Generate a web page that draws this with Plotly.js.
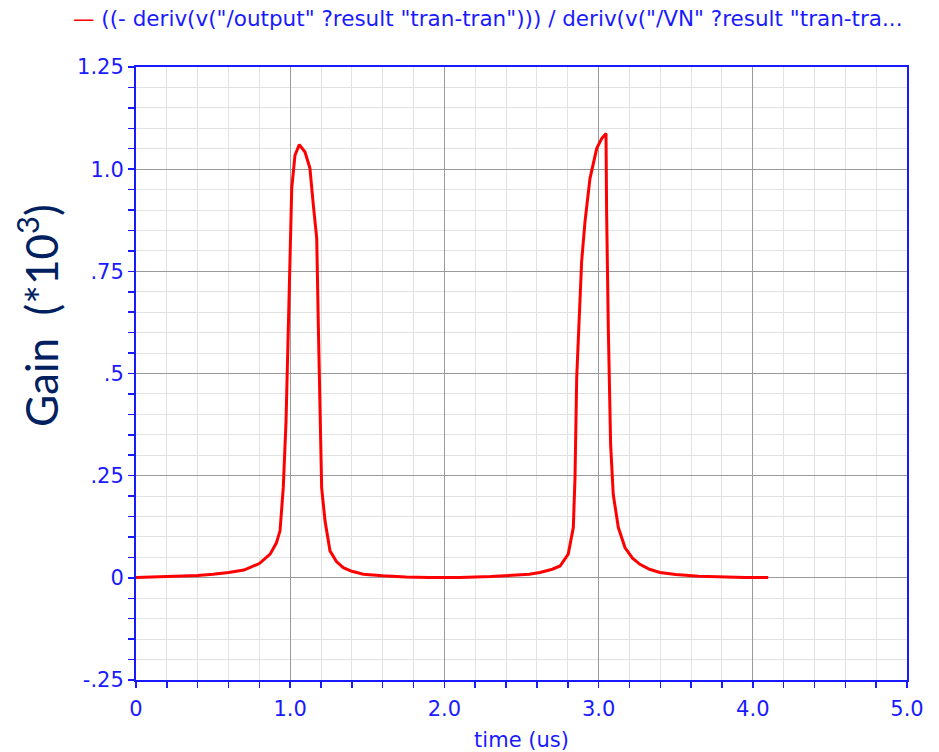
<!DOCTYPE html>
<html>
<head>
<meta charset="utf-8">
<script src="https://cdn.plot.ly/plotly-3.0.1.min.js"></script>
<style>html,body{margin:0;padding:0;background:#fff;}#chart{width:939px;height:752px;}</style>
</head>
<body>
<div id="chart"></div>
<script>
const timeUs = [0, 0.2, 0.4, 0.5, 0.6, 0.7, 0.74, 0.8, 0.87, 0.91, 0.934, 0.955, 0.973, 0.988, 0.999, 1.010, 1.031, 1.059, 1.096, 1.128, 1.150, 1.172, 1.182, 1.193, 1.204, 1.226, 1.258, 1.30, 1.344, 1.40, 1.474, 1.6, 1.75, 1.9, 2.1, 2.3, 2.45, 2.55, 2.62, 2.70, 2.75, 2.803, 2.836, 2.847, 2.858, 2.875, 2.890, 2.912, 2.944, 2.988, 3.020, 3.048, 3.052, 3.063, 3.078, 3.095, 3.128, 3.171, 3.22, 3.268, 3.33, 3.398, 3.5, 3.65, 3.8, 3.95, 4.1];
const gainK = [0.001, 0.003, 0.006, 0.009, 0.013, 0.019, 0.025, 0.035, 0.058, 0.085, 0.115, 0.22, 0.383, 0.627, 0.831, 0.953, 1.034, 1.060, 1.042, 1.002, 0.912, 0.831, 0.627, 0.383, 0.22, 0.139, 0.066, 0.040, 0.025, 0.016, 0.009, 0.005, 0.002, 0.001, 0.001, 0.003, 0.006, 0.009, 0.013, 0.021, 0.029, 0.058, 0.123, 0.245, 0.489, 0.652, 0.774, 0.872, 0.977, 1.051, 1.075, 1.087, 0.896, 0.611, 0.326, 0.204, 0.123, 0.074, 0.048, 0.033, 0.021, 0.013, 0.008, 0.004, 0.002, 0.001, 0.001];
const xTickVals = [0, 1, 2, 3, 4, 5];
const xTickText = ['0', '1.0', '2.0', '3.0', '4.0', '5.0'];
const yTickVals = [-0.25, 0, 0.25, 0.5, 0.75, 1.0, 1.25];
const yTickText = ['-.25', '0', '.25', '.5', '.75', '1.0', '1.25'];
const legendText = '((- deriv(v("/output" ?result "tran-tran"))) / deriv(v("/VN" ?result "tran-tra...';
const yTitleText = 'Gain  (*10<sup>3</sup>)';
const xTitleText = 'time (us)';

const blue = '#1a1aff';
const trace = {
  x: timeUs, y: gainK, type: 'scatter', mode: 'lines',
  line: {color: '#ff0000', width: 3}, showlegend: false
};
const axisCommon = {
  showline: true, linecolor: blue, linewidth: 2, mirror: true,
  ticks: 'outside', ticklen: 6, tickcolor: blue, tickwidth: 1.5,
  showgrid: true, gridcolor: '#9a9a9a', gridwidth: 1.2,
  zeroline: false,
  tickfont: {family: 'DejaVu Sans', size: 21, color: blue},
  tickmode: 'array'
};
const layout = {
  width: 939, height: 752,
  margin: {l: 136, r: 32, t: 67, b: 72},
  paper_bgcolor: '#ffffff', plot_bgcolor: '#ffffff',
  xaxis: Object.assign({}, axisCommon, {
    range: [0, 5], tickvals: xTickVals, ticktext: xTickText,
    ticklabelstandoff: 3,
    minor: {dtick: 0.2, showgrid: true, gridcolor: '#e2e2e2', gridwidth: 1, ticks: 'outside', ticklen: 6, tickcolor: blue},
    title: {text: xTitleText, font: {family: 'DejaVu Sans', size: 21, color: blue}, standoff: 12}
  }),
  yaxis: Object.assign({}, axisCommon, {
    range: [-0.25, 1.25], tickvals: yTickVals, ticktext: yTickText,
    minor: {dtick: 0.05, showgrid: true, gridcolor: '#e2e2e2', gridwidth: 1, ticks: 'outside', ticklen: 6, tickcolor: blue}
  }),
  annotations: [{
    xref: 'paper', yref: 'paper', x: -0.084, y: 1.0, yshift: 49,
    xanchor: 'left', yanchor: 'middle', showarrow: false,
    text: '<span style="color:#ff0000">—</span> ' + legendText,
    font: {family: 'DejaVu Sans', size: 21.5, color: blue}
  }, {
    xref: 'paper', yref: 'paper', x: -0.127, y: 0.594,
    xanchor: 'center', yanchor: 'middle', showarrow: false, textangle: -90,
    text: yTitleText,
    font: {family: 'Lato', size: 44, color: '#002060'}
  }]
};
Plotly.newPlot('chart', [trace], layout, {displayModeBar: false, staticPlot: true});
</script>
</body>
</html>
